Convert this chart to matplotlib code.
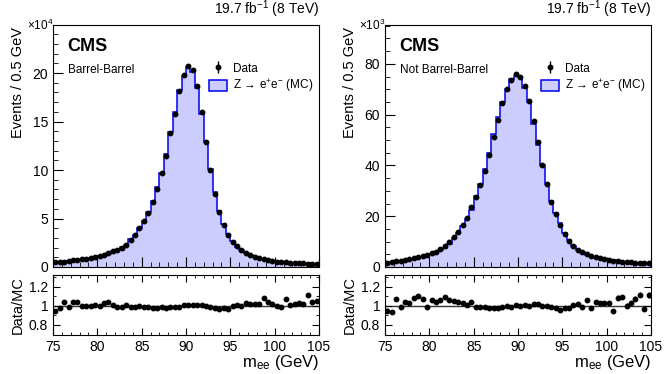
import numpy as np
import matplotlib.pyplot as plt
from matplotlib.patches import Patch
from matplotlib.ticker import MultipleLocator, FixedLocator, FixedFormatter

plt.rcParams['font.family'] = ['Liberation Sans', 'DejaVu Sans']
plt.rcParams['mathtext.fontset'] = 'custom'
plt.rcParams['mathtext.rm'] = 'Liberation Sans'
plt.rcParams['mathtext.it'] = 'Liberation Sans'

# m_ee bins: 0.5 GeV from 75 to 105
edges = np.arange(75.0, 105.01, 0.5)
centers = 0.5 * (edges[:-1] + edges[1:])

# Barrel-Barrel: data events / 0.5 GeV in units of 1e4
bb_data = [0.49, 0.52, 0.55, 0.62, 0.69, 0.73, 0.80, 0.86, 0.93, 1.04,
           1.14, 1.28, 1.42, 1.62, 1.76, 2.00, 2.30, 2.80, 3.30, 3.97,
           4.70, 5.56, 6.67, 8.05, 9.64, 11.4, 13.8, 15.8, 18.1, 19.8,
           20.76, 20.35, 18.7, 16.0, 12.9, 9.98, 7.53, 5.66, 4.28, 3.25,
           2.62, 2.14, 1.76, 1.49, 1.24, 1.07, 0.93, 0.79, 0.69, 0.62,
           0.55, 0.52, 0.49, 0.45, 0.42, 0.38, 0.38, 0.35, 0.31, 0.31]
bb_ratio = [0.951, 0.975, 1.039, 0.989, 1.046, 1.039, 1.000, 1.000, 1.000, 1.014,
            0.996, 1.028, 1.046, 1.010, 0.990, 0.990, 1.010, 0.986, 0.990, 0.996,
            0.993, 0.986, 0.982, 0.982, 0.990, 0.979, 0.990, 0.990, 0.993, 1.007,
            1.007, 1.014, 1.014, 1.014, 1.000, 0.990, 0.979, 0.972, 0.975, 0.965,
            0.996, 1.014, 1.004, 1.032, 1.018, 1.018, 1.018, 1.084, 1.039, 1.018,
            0.996, 0.993, 1.077, 1.014, 1.021, 1.032, 1.018, 1.119, 1.046, 1.053]

# Not Barrel-Barrel: data events / 0.5 GeV in units of 1e3
nbb_data = [1.71, 1.97, 2.23, 2.50, 2.76, 3.02, 3.42, 3.81, 4.33, 4.73,
            5.39, 6.04, 6.96, 8.41, 9.72, 11.8, 13.9, 16.4, 19.2, 23.5,
            27.6, 32.3, 38.0, 44.1, 51.1, 57.8, 64.4, 70.0, 73.7, 75.9,
            75.0, 71.3, 65.4, 57.3, 49.1, 40.2, 32.7, 25.7, 20.8, 16.6,
            13.0, 10.2, 8.28, 6.83, 5.78, 4.99, 4.33, 3.81, 3.42, 3.02,
            2.76, 2.50, 2.36, 2.10, 1.97, 1.84, 1.71, 1.58, 1.58, 1.45]
nbb_ratio = [0.951, 0.937, 1.074, 0.990, 1.039, 1.035, 1.084, 1.109, 1.074, 0.993,
             1.063, 1.042, 1.060, 1.098, 1.063, 1.049, 1.046, 1.028, 1.014, 1.039,
             0.993, 0.986, 0.986, 0.979, 0.979, 0.979, 0.990, 1.000, 0.993, 1.011,
             1.000, 1.011, 1.004, 1.018, 1.018, 0.996, 1.000, 0.990, 0.975, 0.961,
             0.979, 0.975, 1.007, 1.018, 0.993, 1.063, 0.982, 1.046, 1.028, 1.035,
             1.028, 0.951, 1.088, 1.095, 1.004, 1.032, 1.074, 1.119, 0.968, 1.116]

panels = [
    dict(data=bb_data, ratio=bb_ratio, scale=1e4, exp='4', label='Barrel-Barrel',
         ymax=24.95, major=5, minor=1, x0=53),
    dict(data=nbb_data, ratio=nbb_ratio, scale=1e3, exp='3', label='Not Barrel-Barrel',
         ymax=95.3, major=20, minor=5, x0=385),
]

W, H = 664, 374
fig = plt.figure(figsize=(W / 100, H / 100), dpi=100)

fill_col = '#ccccff'
line_col = '#0000ee'

for p in panels:
    left = p['x0'] / W
    width = 266 / W
    ax = fig.add_axes([left, 1 - 267 / H, width, 242 / H])
    rax = fig.add_axes([left, 1 - 335 / H, width, 60 / H])

    data = np.array(p['data'])
    ratio = np.array(p['ratio'])
    mc = data / ratio
    counts = data * p['scale']
    derr = np.sqrt(counts) / p['scale']

    ax.stairs(mc, edges, fill=True, color=fill_col, zorder=1)
    ax.stairs(mc, edges, color=line_col, lw=1.1, zorder=2)
    ax.errorbar(centers, data, yerr=derr, fmt='o', color='black', ms=3.2,
                elinewidth=1, capsize=0, zorder=3)

    ax.set_xlim(75, 105)
    ax.set_ylim(0, p['ymax'])
    ax.xaxis.set_major_locator(MultipleLocator(5))
    ax.xaxis.set_minor_locator(MultipleLocator(1))
    ax.yaxis.set_major_locator(MultipleLocator(p['major']))
    ax.yaxis.set_minor_locator(MultipleLocator(p['minor']))
    ax.tick_params(axis='both', which='both', direction='in', labelsize=10)
    ax.tick_params(axis='both', which='major', length=7)
    ax.tick_params(axis='both', which='minor', length=3.5)
    ax.tick_params(axis='x', labelbottom=False)
    ax.set_ylabel('Events / 0.5 GeV', fontsize=10.5, loc='top')
    ax.yaxis.set_label_coords(-0.105, 0.99)

    ax.text(0.0, 1.0, r'$\times10^{%s}$' % p['exp'], transform=ax.transAxes,
            ha='right', va='center', fontsize=8.5)
    ax.text(1.0, 1.02, r'19.7 fb$^{-1}$ (8 TeV)', transform=ax.transAxes,
            ha='right', va='bottom', fontsize=10)
    ax.text(0.055, 0.912, 'CMS', transform=ax.transAxes, ha='left', va='center',
            fontsize=13, fontweight='bold')
    ax.text(0.055, 0.812, p['label'], transform=ax.transAxes, ha='left',
            va='center', fontsize=8.5)

    h_data = ax.errorbar([], [], yerr=[], fmt='o', color='black', ms=3.2, elinewidth=1)
    h_mc = Patch(facecolor=fill_col, edgecolor=line_col, lw=1.1)
    ax.legend([h_data, h_mc], ['Data', r'Z$\,\rightarrow\,$e$^{+}$e$^{-}$ (MC)'],
              loc='upper left', bbox_to_anchor=(0.585, 0.845), frameon=False,
              fontsize=8.5, handlelength=1.6, handleheight=1.1, handletextpad=0.5,
              borderpad=0, borderaxespad=0, labelspacing=0.2)

    # ratio panel
    rerr = ratio / np.sqrt(counts)
    rax.axhline(1.0, color='#333333', lw=1, zorder=1)
    rax.errorbar(centers, ratio, yerr=rerr, fmt='o', color='black', ms=3.2,
                 elinewidth=1, capsize=0, zorder=3)
    rax.set_xlim(75, 105)
    rax.set_ylim(0.695, 1.325)
    rax.xaxis.set_major_locator(MultipleLocator(5))
    rax.xaxis.set_minor_locator(MultipleLocator(1))
    rax.yaxis.set_major_locator(FixedLocator([0.8, 1.0, 1.2]))
    rax.yaxis.set_major_formatter(FixedFormatter(['0.8', '1', '1.2']))
    rax.yaxis.set_minor_locator(MultipleLocator(0.1))
    rax.tick_params(axis='both', which='both', direction='in', labelsize=10,
                    top=True, right=True)
    rax.tick_params(axis='both', which='major', length=5)
    rax.tick_params(axis='both', which='minor', length=2.5)
    rax.tick_params(axis='x', pad=3.5)
    rax.set_ylabel('Data/MC', fontsize=10.5)
    rax.yaxis.set_label_coords(-0.105, 0.5)
    rax.set_xlabel(r'm$_{\rm ee}$ (GeV)', fontsize=12, loc='right')
    rax.xaxis.set_label_coords(1.0, -0.30)

fig.savefig('out.png', dpi=100)
